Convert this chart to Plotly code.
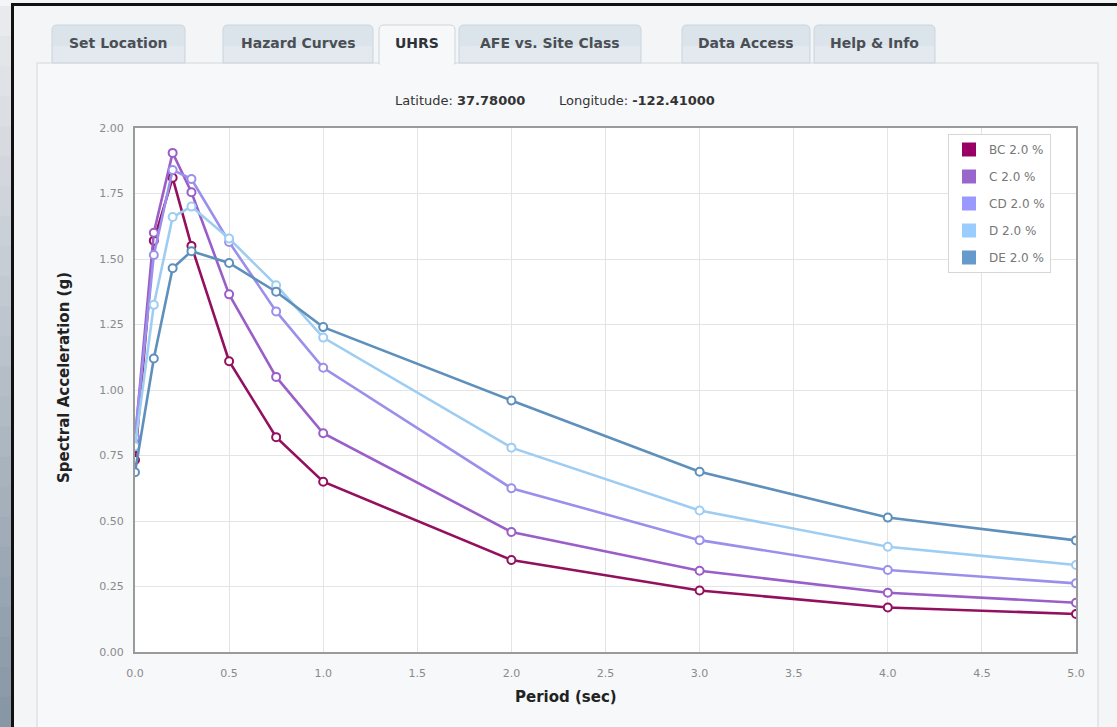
import plotly.graph_objects as go

# Uniform hazard response spectra, 2% in 50 years, per site class
periods = [0.0, 0.1, 0.2, 0.3, 0.5, 0.75, 1.0, 2.0, 3.0, 4.0, 5.0]

sa_bc = [0.733, 1.57, 1.81, 1.55, 1.11, 0.82, 0.65, 0.351, 0.235, 0.170, 0.145]
sa_c = [0.81, 1.60, 1.905, 1.755, 1.365, 1.05, 0.835, 0.458, 0.310, 0.226, 0.188]
sa_cd = [0.82, 1.515, 1.84, 1.805, 1.565, 1.30, 1.085, 0.625, 0.427, 0.313, 0.262]
sa_d = [0.785, 1.325, 1.66, 1.70, 1.578, 1.40, 1.20, 0.780, 0.540, 0.402, 0.332]
sa_de = [0.686, 1.12, 1.465, 1.53, 1.485, 1.375, 1.24, 0.960, 0.688, 0.513, 0.426]

series_names = ["BC 2.0 %", "C 2.0 %", "CD 2.0 %", "D 2.0 %", "DE 2.0 %"]
series_values = [sa_bc, sa_c, sa_cd, sa_d, sa_de]
line_colors = ["#93105e", "#9a5ec8", "#9a90ec", "#9ecdf3", "#5f90bb"]
swatch_colors = ["#990066", "#9966cc", "#9999ff", "#99ccff", "#6699cc"]

tab_labels = ["Set Location", "Hazard Curves", "UHRS", "AFE vs. Site Class",
              "Data Access", "Help & Info"]
tab_edges = [(52, 185), (223, 373), (379, 455), (459, 641), (682, 810), (814, 935)]
active_tab = "UHRS"

latitude = "37.78000"
longitude = "-122.41000"

x_ticks = [i * 0.5 for i in range(11)]
y_ticks = [i * 0.25 for i in range(9)]

W, H = 1117, 727
L, R, T, B = 135, 1076, 128, 652  # plot-area pixel box
FONT = "DejaVu Sans, Verdana, sans-serif"


def px(x):
    return (x - L) / (R - L)


def py(y):
    return (B - y) / (B - T)


fig = go.Figure()

for name, vals, col in zip(series_names, series_values, line_colors):
    fig.add_trace(go.Scatter(
        x=periods, y=vals, mode="lines+markers", name=name, showlegend=False,
        line=dict(color=col, width=2.6),
        marker=dict(symbol="circle", size=8, color="white",
                    line=dict(color=col, width=2)),
    ))

# square swatches for the legend
for i, (name, col) in enumerate(zip(series_names, swatch_colors)):
    fig.add_trace(go.Scatter(
        x=[None], y=[None], mode="markers", name=name, legendgroup=f"g{i}",
        marker=dict(symbol="square", size=14, color=col),
    ))

shapes = []

# outer frame: shaded strip at the far left, dark rules
bands = 24
for i in range(bands):
    t = i / (bands - 1)
    c0, c1 = (232, 234, 237), (136, 151, 166)
    col = tuple(int(c0[k] + (c1[k] - c0[k]) * t) for k in range(3))
    y0 = 6 + (H - 6) * i / bands
    y1 = 6 + (H - 6) * (i + 1) / bands + 1
    shapes.append(dict(type="rect", xref="paper", yref="paper", layer="below",
                       x0=px(0), x1=px(11), y0=py(y0), y1=py(y1),
                       fillcolor="rgb(%d,%d,%d)" % col, line=dict(width=0)))
shapes.append(dict(type="rect", xref="paper", yref="paper", layer="below",
                   x0=px(11), x1=px(14), y0=py(3), y1=py(H + 2),
                   fillcolor="#111111", line=dict(width=0)))
shapes.append(dict(type="rect", xref="paper", yref="paper", layer="below",
                   x0=px(11), x1=px(W + 2), y0=py(3), y1=py(6),
                   fillcolor="#111111", line=dict(width=0)))

# content panel
shapes.append(dict(type="rect", xref="paper", yref="paper", layer="below",
                   x0=px(37), x1=px(1098), y0=py(63), y1=py(H + 10),
                   fillcolor="#f6f8fa", line=dict(color="#dde2e7", width=1.5)))


def tab_path(x0, x1, ytop, ybot, r=5):
    a, b = px(x0), px(x1)
    yt, yb = py(ytop), py(ybot)
    rx = r / (R - L)
    ry = r / (B - T)
    return (f"M {a},{yb} L {a},{yt - ry} Q {a},{yt} {a + rx},{yt} "
            f"L {b - rx},{yt} Q {b},{yt} {b},{yt - ry} L {b},{yb} Z")


annotations = []
for label, (x0, x1) in zip(tab_labels, tab_edges):
    active = label == active_tab
    shapes.append(dict(type="path", xref="paper", yref="paper", layer="below",
                       path=tab_path(x0, x1, 25, 64 if active else 63),
                       fillcolor="#f6f8fa" if active else "#dce4eb",
                       line=dict(color="#cdd5dd", width=1)))
    if not active:
        # lighter lower half of the tab face
        shapes.append(dict(type="rect", xref="paper", yref="paper", layer="below",
                           x0=px(x0 + 1), x1=px(x1 - 1), y0=py(62), y1=py(46),
                           fillcolor="#e3e9ee", line=dict(width=0)))
    else:
        shapes.append(dict(type="rect", xref="paper", yref="paper", layer="below",
                           x0=px(x0 + 1), x1=px(x1 - 1), y0=py(66), y1=py(61),
                           fillcolor="#f6f8fa", line=dict(width=0)))
    annotations.append(dict(
        xref="paper", yref="paper", x=px((x0 + x1) / 2), y=py(43),
        text=f"<b>{label}</b>", showarrow=False, xanchor="center", yanchor="middle",
        font=dict(family=FONT, size=14,
                  color="#4a4f55" if not active else "#2f3338"),
    ))

# white plot surface above the panel
shapes.append(dict(type="rect", xref="paper", yref="paper", layer="below",
                   x0=0, x1=1, y0=0, y1=1, fillcolor="white", line=dict(width=0)))

annotations.append(dict(
    xref="paper", yref="paper", x=px(393), y=py(100),
    text=f"Latitude: <b>{latitude}</b>",
    showarrow=False, xanchor="left", yanchor="middle",
    font=dict(family=FONT, size=13, color="#333333"),
))
annotations.append(dict(
    xref="paper", yref="paper", x=px(557), y=py(100),
    text=f"Longitude: <b>{longitude}</b>",
    showarrow=False, xanchor="left", yanchor="middle",
    font=dict(family=FONT, size=13, color="#333333"),
))
annotations.append(dict(
    xref="paper", yref="paper", x=px(566), y=py(697),
    text="<b>Period (sec)</b>", showarrow=False, xanchor="center", yanchor="middle",
    font=dict(family=FONT, size=15, color="#222222"),
))
annotations.append(dict(
    xref="paper", yref="paper", x=px(64), y=py(378),
    text="<b>Spectral Acceleration (g)</b>", textangle=-90, showarrow=False,
    xanchor="center", yanchor="middle",
    font=dict(family=FONT, size=15, color="#222222"),
))

axis_common = dict(
    showline=True, linecolor="#9a9a9a", linewidth=2, mirror=True,
    showgrid=True, gridcolor="#e4e4e4", gridwidth=1, zeroline=False,
    ticks="", tickfont=dict(family=FONT, size=11, color="#8a8a8a"),
)

fig.update_layout(
    width=W, height=H,
    margin=dict(l=L, r=W - R, t=T, b=H - B, pad=0),
    paper_bgcolor="#f3f5f7",
    plot_bgcolor="white",
    showlegend=True,
    legend=dict(
        x=px(948), y=py(134), xanchor="left", yanchor="top",
        bgcolor="white", bordercolor="#d6d6d6", borderwidth=1,
        font=dict(family=FONT, size=12, color="#777777"),
        tracegroupgap=8, itemsizing="trace",
    ),
    xaxis=dict(range=[0, 5], tickvals=x_ticks,
               ticktext=[f"{v:.1f}" for v in x_ticks],
               ticklabelstandoff=10, **axis_common),
    yaxis=dict(range=[0, 2], tickvals=y_ticks,
               ticktext=[f"{v:.2f}" for v in y_ticks],
               ticklabelstandoff=7, **axis_common),
    shapes=shapes,
    annotations=annotations,
)

fig.write_html("out.html")
